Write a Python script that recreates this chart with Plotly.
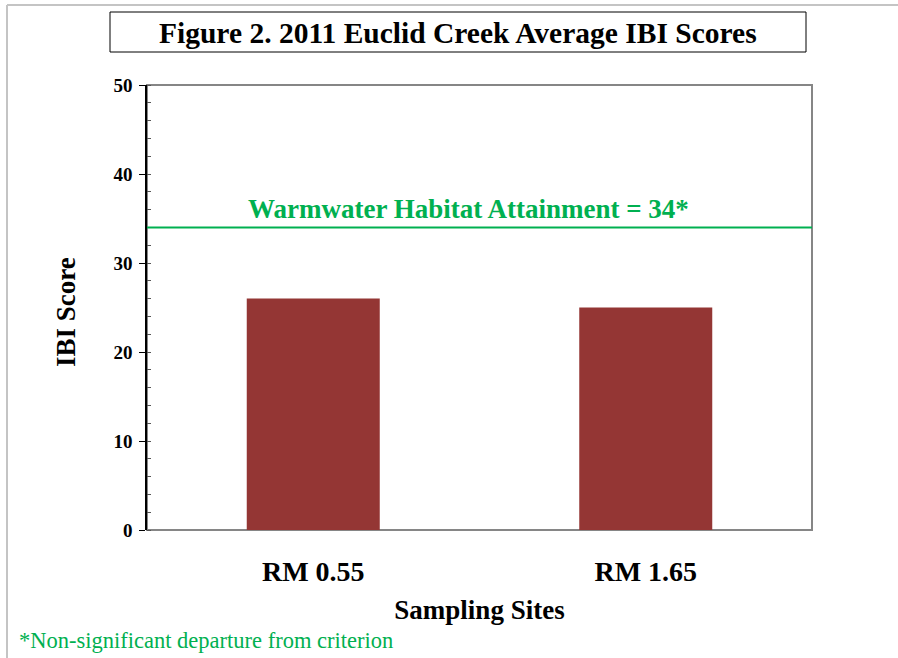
import plotly.graph_objects as go

sites = ["RM 0.55", "RM 1.65"]
ibi_scores = [26, 25]
attainment = 34
y_ticks = [0, 10, 20, 30, 40, 50]

FONT = "Liberation Serif"
GREEN = "#00B050"
BAR = "#943634"

fig = go.Figure()
fig.add_trace(go.Bar(x=sites, y=ibi_scores, width=0.4, marker=dict(color=BAR, line=dict(width=0)),
                     hoverinfo="x+y"))

L, R, T, B = 147, 86, 85, 128
W, H = 898, 658
pw, ph = W - L - R, H - T - B

def px(x):
    return (x - L) / pw

def py(y):
    return (H - B - y) / ph

shapes = [
    # plot area border (gray)
    dict(type="rect", xref="paper", yref="paper", x0=0, x1=1, y0=0, y1=1,
         line=dict(color="#868686", width=2), layer="below"),
    # title box
    dict(type="rect", xref="paper", yref="paper", x0=px(110), x1=px(806), y0=py(52), y1=py(12),
         line=dict(color="#000000", width=1)),
    # outer frame lines
    dict(type="line", xref="paper", yref="paper", x0=px(7), x1=px(898), y0=py(5), y1=py(5),
         line=dict(color="#c4c4c4", width=2)),
    dict(type="line", xref="paper", yref="paper", x0=px(7), x1=px(7), y0=py(5), y1=py(658),
         line=dict(color="#c4c4c4", width=2)),
    # attainment line
    dict(type="line", xref="x domain", yref="y", x0=0, x1=1, y0=attainment, y1=attainment,
         line=dict(color=GREEN, width=2)),
]

annotations = [
    dict(text="<b>Figure 2. 2011 Euclid Creek Average IBI Scores</b>", xref="paper", yref="paper",
         x=px(458), y=py(33), showarrow=False, font=dict(family=FONT, size=29.5, color="black"),
         xanchor="center", yanchor="middle"),
    dict(text=f"<b>Warmwater Habitat Attainment = {attainment}*</b>", xref="paper", yref="paper",
         x=px(468), y=py(209), showarrow=False, font=dict(family=FONT, size=27, color=GREEN),
         xanchor="center", yanchor="middle"),
    dict(text="*Non-significant departure from criterion", xref="paper", yref="paper",
         x=px(17), y=py(640), showarrow=False, font=dict(family=FONT, size=22.5, color=GREEN),
         xanchor="left", yanchor="middle"),
    dict(text="<b>IBI Score</b>", xref="paper", yref="paper", textangle=-90,
         x=px(66), y=py(312), showarrow=False, font=dict(family=FONT, size=27, color="black"),
         xanchor="center", yanchor="middle"),
]

fig.update_layout(
    width=W, height=H,
    margin=dict(l=L, r=R, t=T, b=B),
    paper_bgcolor="white", plot_bgcolor="white",
    showlegend=False,
    shapes=shapes, annotations=annotations,
    font=dict(family=FONT, color="black"),
    bargap=0.6,
)

fig.update_xaxes(
    showgrid=False, zeroline=False, showline=False, ticks="",
    tickfont=dict(family=FONT, size=28, color="black"),
    tickprefix="<b>", ticksuffix="</b>",
    ticklabelstandoff=22,
    title=dict(text="<b>Sampling Sites</b>", font=dict(family=FONT, size=27, color="black"), standoff=14),
)

fig.update_yaxes(
    range=[0, 50], tickvals=y_ticks, ticktext=[f"<b>{v}</b>" for v in y_ticks],
    showgrid=False, zeroline=False,
    showline=True, linecolor="black", linewidth=1.5,
    ticks="outside", ticklen=6, tickcolor="black", tickwidth=1,
    minor=dict(dtick=2, ticks="inside", ticklen=4, tickcolor="#555555", showgrid=False),
    tickfont=dict(family=FONT, size=19, color="black"),
    ticklabelstandoff=3,
)

fig.write_html("out.html", config={"displayModeBar": False},
               post_script="document.body.style.margin='0';")
